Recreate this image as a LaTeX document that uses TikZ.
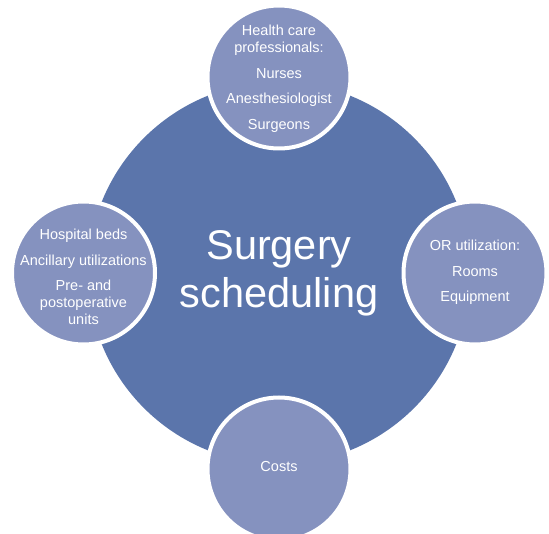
\documentclass[tikz,border=0pt]{standalone}
\usepackage{fontspec}
\setmainfont{Liberation Sans}
\definecolor{hubblue}{RGB}{91,117,171}
\definecolor{satblue}{RGB}{133,146,191}

\begin{document}
\begin{tikzpicture}[x=1pt,y=-1pt,
  sat/.style={draw=white,line width=4pt,fill=satblue,shape=circle,inner sep=0pt,minimum size=143pt},
  txt/.style={text=white,align=center,inner sep=0pt,font=\fontsize{14.5}{17}\selectfont}]
  \useasboundingbox (0,0) rectangle (549,534);
  \path (279,273) node[shape=circle,fill=hubblue,inner sep=0pt,minimum size=382pt] (hub) {};
  \path (279,77) node[sat] (staff) {} (83.5,273) node[sat] (beds) {}
  (475,273) node[sat] (rooms) {} (279,469) node[sat] (costs) {};
  \node[txt,font=\fontsize{41.5}{48}\selectfont] (hubtxt) at (hub) {Surgery\\scheduling};
  \node[txt,yshift=-2pt] (stafftxt) at (staff) {Health care\\professionals:\\[8.5pt]Nurses\\[8.5pt]Anesthesiologist\\[8.5pt]Surgeons};
  \node[txt,yshift=-4pt] (bedstxt) at (beds) {Hospital beds\\[8.5pt]Ancillary utilizations\\[8.5pt]Pre- and\\postoperative\\units};
  \node[txt,yshift=0.5pt] (roomstxt) at (rooms) {OR utilization:\\[8.5pt]Rooms\\[8.5pt]Equipment};
  \node[txt,yshift=2.5pt] (coststxt) at (costs) {Costs};
\end{tikzpicture}
\end{document}
